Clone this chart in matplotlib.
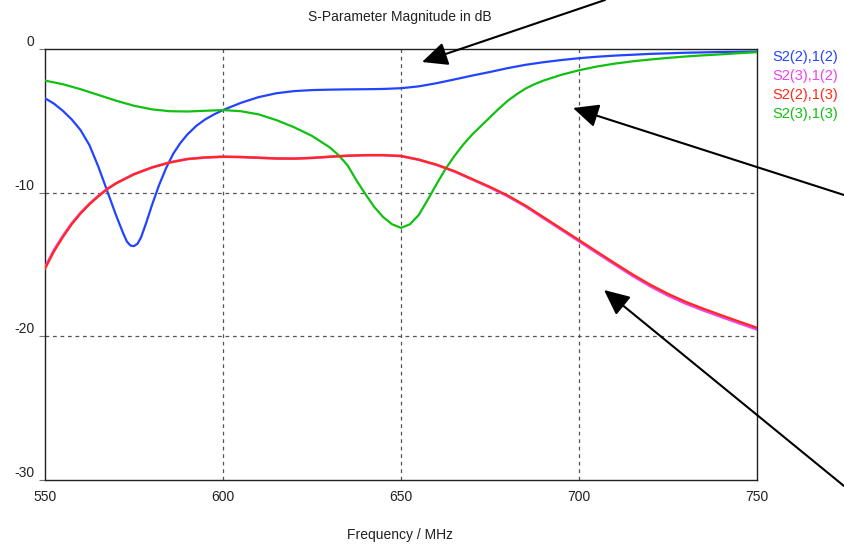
import matplotlib
matplotlib.use("Agg")
import matplotlib.pyplot as plt

# ---------------- data ----------------
freq_s22 = [550, 552.5, 555, 557.5, 560, 562.5, 565, 567.5, 570, 572, 573, 574, 575,
            576, 577, 578.5, 580, 582, 584, 586, 588, 590, 592.5, 595, 597.5,
            600, 605, 610, 615, 620, 625, 630, 635, 640, 645, 650, 655, 660, 665,
            670, 675, 680, 685, 690, 695, 700, 705, 710, 720, 730, 740, 750]
s22_db = [-3.43, -3.8, -4.3, -4.9, -5.65, -6.7, -8.2, -9.9, -11.6, -12.85, -13.4, -13.68,
          -13.72, -13.55, -13.1, -12.05, -10.9, -9.5, -8.3, -7.3, -6.55, -5.95, -5.35,
          -4.9, -4.55, -4.25, -3.75, -3.35, -3.08, -2.93, -2.86, -2.83, -2.81, -2.8,
          -2.78, -2.73, -2.6, -2.38, -2.12, -1.85, -1.6, -1.33, -1.1, -0.92, -0.77,
          -0.64, -0.54, -0.46, -0.34, -0.26, -0.21, -0.17]

freq_s33 = [550, 555, 560, 565, 570, 575, 580, 585, 590, 595, 600, 605, 610, 615, 620,
            625, 630, 632.5, 635, 637.5, 640, 642.5, 645, 647.5, 650, 652.5, 655, 657.5,
            660, 662.5, 665, 667.5, 670, 672.5, 675, 677.5, 680, 682.5, 685, 687.5, 690,
            695, 700, 705, 710, 715, 720, 725, 730, 735, 740, 745, 750]
s33_db = [-2.2, -2.45, -2.8, -3.2, -3.6, -3.95, -4.2, -4.33, -4.35, -4.3, -4.25, -4.33,
          -4.55, -4.95, -5.45, -6.05, -6.85, -7.4, -8.1, -9.15, -10.1, -11.0, -11.7,
          -12.2, -12.45, -12.2, -11.55, -10.5, -9.4, -8.35, -7.45, -6.65, -5.95, -5.35,
          -4.75, -4.15, -3.6, -3.15, -2.75, -2.45, -2.2, -1.8, -1.48, -1.22, -1.02,
          -0.86, -0.73, -0.62, -0.52, -0.44, -0.37, -0.29, -0.22]

freq = [550, 552.5, 555, 557.5, 560, 562.5, 565, 567.5, 570, 575, 580, 585, 590, 595,
        600, 605, 610, 615, 620, 625, 630, 635, 640, 645, 650, 655, 660, 665, 670, 675,
        680, 685, 690, 695, 700, 705, 710, 715, 720, 725, 730, 735, 740, 745, 750]
s21_db = [-15.3, -14.1, -13.1, -12.2, -11.45, -10.8, -10.25, -9.75, -9.35, -8.72, -8.25,
          -7.9, -7.66, -7.55, -7.5, -7.52, -7.57, -7.62, -7.63, -7.58, -7.5, -7.43, -7.39,
          -7.39, -7.45, -7.7, -8.05, -8.5, -9.05, -9.6, -10.2, -10.9, -11.7, -12.5, -13.3,
          -14.1, -14.9, -15.68, -16.4, -17.04, -17.6, -18.08, -18.53, -18.97, -19.4]
s31_db = [-15.2, -14.0, -13.02, -12.14, -11.4, -10.77, -10.22, -9.73, -9.34, -8.71, -8.25,
          -7.9, -7.66, -7.55, -7.5, -7.52, -7.57, -7.62, -7.63, -7.58, -7.5, -7.43, -7.39,
          -7.39, -7.45, -7.71, -8.07, -8.53, -9.08, -9.64, -10.25, -10.96, -11.77, -12.57,
          -13.38, -14.19, -14.99, -15.78, -16.51, -17.16, -17.72, -18.2, -18.65, -19.09, -19.52]

legend_labels = ["S2(2),1(2)", "S2(3),1(2)", "S2(2),1(3)", "S2(3),1(3)"]
colors = ["#2244ff", "#ee44ee", "#ff2a1a", "#11c011"]

xticks = [550, 600, 650, 700, 750]
yticks = [0, -10, -20, -30]

# ---------------- figure ----------------
plt.rcParams['font.family'] = ['Liberation Sans', 'DejaVu Sans']
W, H = 844, 546
fig = plt.figure(figsize=(W / 100, H / 100), dpi=100)
ax = fig.add_axes([45 / W, 1 - 480 / H, (757 - 45) / W, (480 - 49) / H])

ax.plot(freq_s22, s22_db, color=colors[0], lw=1.6, zorder=3)
ax.plot(freq, s31_db, color=colors[1], lw=1.9, zorder=3)
ax.plot(freq, s21_db, color=colors[2], lw=1.6, zorder=4)
ax.plot(freq_s33, s33_db, color=colors[3], lw=1.6, zorder=3)

ax.set_xlim(550, 750)
ax.set_ylim(-30, 0)
ax.set_xticks(xticks)
ax.set_yticks(yticks)
ax.set_xticklabels([str(v) for v in xticks])
ax.set_yticklabels([str(v) for v in yticks])

for sp in ax.spines.values():
    sp.set_color('#222222')
    sp.set_linewidth(1.0)

for xv in xticks[1:-1]:
    ax.axvline(xv, color='#555555', lw=0.9, ls=(0, (3, 3)), zorder=1)
for yv in yticks[1:-1]:
    ax.axhline(yv, color='#555555', lw=0.9, ls=(0, (3, 3)), zorder=1)

ax.tick_params(axis='x', length=0, pad=7, labelsize=10, colors='#222222')
ax.tick_params(axis='y', length=4.5, width=0.8, color='#777777', pad=3,
               labelsize=10, labelcolor='#222222')
for lab in ax.get_yticklabels():
    lab.set_verticalalignment('bottom')

fig.text(400 / W, 1 - 535 / H, "Frequency / MHz", ha='center', va='center',
         fontsize=10, color='#222222')
fig.text(400 / W, 1 - 17 / H, "S-Parameter Magnitude in dB", ha='center', va='center',
         fontsize=10, color='#222222')

for i, (lab, c) in enumerate(zip(legend_labels, colors)):
    fig.text(772 / W, 1 - (57 + 19 * i) / H, lab, ha='left', va='center',
             fontsize=10.5, color=c)

# annotation arrows
arrow_kw = dict(arrowstyle='-|>,head_length=0.65,head_width=0.3', color='black',
                lw=1.5, mutation_scale=24, shrinkA=0, shrinkB=0)
arrows = [((422, 62), (605, 0)), ((573, 108), (844, 195)), ((604, 290), (844, 486))]
for (hx, hy), (tx, ty) in arrows:
    ax.annotate('', xy=(hx / W, 1 - hy / H), xytext=(tx / W, 1 - ty / H),
                xycoords='figure fraction', textcoords='figure fraction',
                arrowprops=arrow_kw, annotation_clip=False)

fig.savefig("out.png", dpi=100)
